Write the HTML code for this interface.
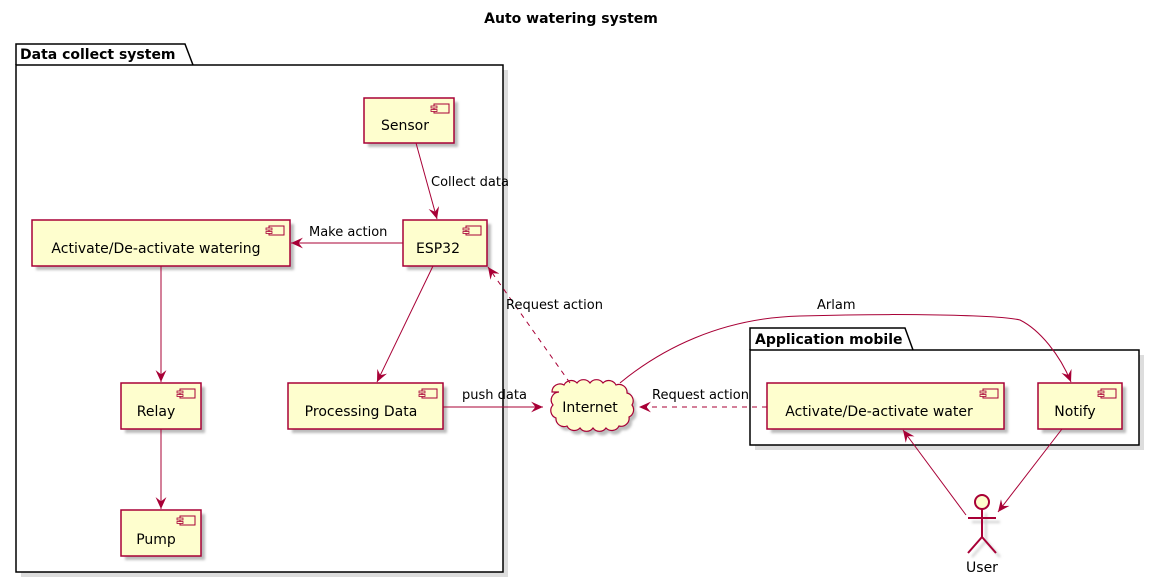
<!DOCTYPE html>
<html><head><meta charset="utf-8"><style>
html,body{margin:0;padding:0;background:#fff;}
svg{display:block;font-family:"DejaVu Sans","Liberation Sans",sans-serif;}
</style></head><body>
<svg width="1154" height="579" viewBox="0 0 1154 579" xmlns="http://www.w3.org/2000/svg">
<defs>
<marker id="a" viewBox="0 0 12 10" refX="11" refY="5" markerWidth="13" markerHeight="11" markerUnits="userSpaceOnUse" orient="auto">
<path d="M0,0 L11,5 L0,10 L4,5 Z" fill="#A80036"/>
</marker>
<filter id="sh" x="-10%" y="-10%" width="130%" height="140%"><feGaussianBlur stdDeviation="1.2"/></filter>
<g id="ic"><rect x="0" y="0" width="15" height="9" fill="#FEFECE" stroke="#A80036"/><rect x="-3" y="2" width="6" height="2" fill="#FEFECE" stroke="#A80036" stroke-width="0.8"/><rect x="-3" y="5.5" width="6" height="2" fill="#FEFECE" stroke="#A80036" stroke-width="0.8"/></g>
</defs>
<text x="571" y="23" font-size="14" font-weight="bold" text-anchor="middle">Auto watering system</text>

<rect x="21" y="70" width="487" height="507" fill="#ddd"/>
<rect x="755" y="355" width="389" height="95" fill="#ddd"/>
<path d="M16,65 V44 H185 L193,65" fill="#fff" stroke="#000" stroke-width="1.5"/>
<rect x="16" y="65" width="487" height="507" fill="#fff" stroke="#000" stroke-width="1.5"/>
<text x="20" y="59" font-size="14" font-weight="bold">Data collect system</text>
<path d="M750,350 V328 H905 L913,350" fill="#fff" stroke="#000" stroke-width="1.5"/>
<rect x="750" y="350" width="389" height="95" fill="#fff" stroke="#000" stroke-width="1.5"/>
<text x="755" y="344" font-size="14" font-weight="bold">Application mobile</text>

<g font-size="14" text-anchor="middle">
<g><rect x="368" y="102" width="90" height="45" fill="#bbb" filter="url(#sh)"/><rect x="364" y="98" width="90" height="45" fill="#FEFECE" stroke="#A80036" stroke-width="1.5"/><use href="#ic" x="434" y="104"/><text x="405" y="130">Sensor</text></g>
<g><rect x="407" y="224" width="84" height="46" fill="#bbb" filter="url(#sh)"/><rect x="403" y="220" width="84" height="46" fill="#FEFECE" stroke="#A80036" stroke-width="1.5"/><use href="#ic" x="466" y="226"/><text x="438" y="253">ESP32</text></g>
<g><rect x="36" y="224" width="258" height="46" fill="#bbb" filter="url(#sh)"/><rect x="32" y="220" width="258" height="46" fill="#FEFECE" stroke="#A80036" stroke-width="1.5"/><use href="#ic" x="269" y="226"/><text x="156" y="253">Activate/De-activate watering</text></g>
<g><rect x="125" y="387" width="80" height="46" fill="#bbb" filter="url(#sh)"/><rect x="121" y="383" width="80" height="46" fill="#FEFECE" stroke="#A80036" stroke-width="1.5"/><use href="#ic" x="180" y="389"/><text x="156" y="416">Relay</text></g>
<g><rect x="292" y="387" width="155" height="46" fill="#bbb" filter="url(#sh)"/><rect x="288" y="383" width="155" height="46" fill="#FEFECE" stroke="#A80036" stroke-width="1.5"/><use href="#ic" x="422" y="389"/><text x="361" y="416">Processing Data</text></g>
<g><rect x="125" y="514" width="80" height="46" fill="#bbb" filter="url(#sh)"/><rect x="121" y="510" width="80" height="46" fill="#FEFECE" stroke="#A80036" stroke-width="1.5"/><use href="#ic" x="180" y="516"/><text x="156" y="544">Pump</text></g>
<g><rect x="771" y="387" width="237" height="46" fill="#bbb" filter="url(#sh)"/><rect x="767" y="383" width="237" height="46" fill="#FEFECE" stroke="#A80036" stroke-width="1.5"/><use href="#ic" x="983" y="389"/><text x="879" y="416">Activate/De-activate water</text></g>
<g><rect x="1042" y="387" width="84" height="46" fill="#bbb" filter="url(#sh)"/><rect x="1038" y="383" width="84" height="46" fill="#FEFECE" stroke="#A80036" stroke-width="1.5"/><use href="#ic" x="1101" y="389"/><text x="1075" y="416">Notify</text></g>
</g>

<g>
<path transform="translate(3,4)" d="M552,392 a8,8 0 0 1 12,-7 a8,8 0 0 1 13,-2 a8,8 0 0 1 13,0 a8,8 0 0 1 13,0 a8,8 0 0 1 13,2 a8,8 0 0 1 11,8 a8,8 0 0 1 5,12 a8,8 0 0 1 -3,12 a8,8 0 0 1 -10,9 a8,8 0 0 1 -13,2 a8,8 0 0 1 -13,0 a8,8 0 0 1 -13,0 a8,8 0 0 1 -13,-2 a8,8 0 0 1 -11,-8 a8,8 0 0 1 -3,-13 a8,8 0 0 1 6,-13 Z" fill="#bbb" filter="url(#sh)"/>
<path d="M552,392 a8,8 0 0 1 12,-7 a8,8 0 0 1 13,-2 a8,8 0 0 1 13,0 a8,8 0 0 1 13,0 a8,8 0 0 1 13,2 a8,8 0 0 1 11,8 a8,8 0 0 1 5,12 a8,8 0 0 1 -3,12 a8,8 0 0 1 -10,9 a8,8 0 0 1 -13,2 a8,8 0 0 1 -13,0 a8,8 0 0 1 -13,0 a8,8 0 0 1 -13,-2 a8,8 0 0 1 -11,-8 a8,8 0 0 1 -3,-13 a8,8 0 0 1 6,-13 Z" fill="#FEFECE" stroke="#A80036" stroke-width="1.2"/>
<text x="590" y="412" font-size="14" text-anchor="middle">Internet</text>
</g>

<g stroke="#ccc" stroke-width="2" fill="none" filter="url(#sh)" transform="translate(4,4)">
<path d="M982,509 V537 M968,518 H996 M968,553 L982,537 L996,553"/>
</g>
<g stroke="#A80036" stroke-width="2" fill="none">
<circle cx="982" cy="502" r="7" fill="#FEFECE"/>
<path d="M982,509 V537 M968,518 H996 M968,553 L982,537 L996,553"/>
</g>
<text x="982" y="572" font-size="14" text-anchor="middle">User</text>

<g stroke="#A80036" stroke-width="1" fill="none">
<path d="M416,143 L437,219" marker-end="url(#a)"/>
<path d="M403,243 L291,243" marker-end="url(#a)"/>
<path d="M161,266 L161,382" marker-end="url(#a)"/>
<path d="M161,429 L161,509" marker-end="url(#a)"/>
<path d="M433,266 L377,382" marker-end="url(#a)"/>
<path d="M443,407 L543,407" marker-end="url(#a)"/>
<path d="M570,383 L488,267" stroke-dasharray="5,5" marker-end="url(#a)"/>
<path d="M767,407 L639,407" stroke-dasharray="5,5" marker-end="url(#a)"/>
<path d="M620,383 C660,350 720,318 800,316 C900,313 1000,315 1020,320 C1040,330 1060,355 1071,382" marker-end="url(#a)"/>
<path d="M966,515 L903,430" marker-end="url(#a)"/>
<path d="M1062,429 L998,512" marker-end="url(#a)"/>
</g>
<g font-size="13">
<text x="431" y="186">Collect data</text>
<text x="309" y="236">Make action</text>
<text x="506" y="309">Request action</text>
<text x="462" y="399">push data</text>
<text x="652" y="399">Request action</text>
<text x="817" y="309">Arlam</text>
</g>
</svg>
</body></html>
